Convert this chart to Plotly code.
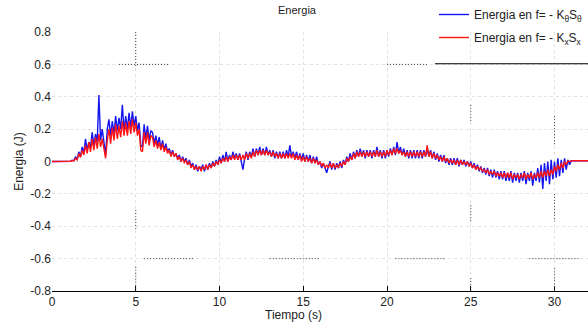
import plotly.graph_objects as go

# Sampling: one value every 0.1 s starting at t = 0 (one row per second)
t_step = 0.1

energia_theta = [  # blue: Energia en f = -K_theta S_theta
    0, 0, 0, 0, 0, 0, 0, 0, 0, 0,
    0.002, 0.001, 0.008, 0.004, 0.03, 0.012, 0.06, 0.03, 0.09, 0.05,
    0.14, 0.07, 0.12, 0.09, 0.18, 0.10, 0.17, 0.12, 0.41, 0.13,
    0.20, 0.12, 0.04, 0.20, 0.26, 0.16, 0.25, 0.17, 0.28, 0.19,
    0.27, 0.20, 0.35, 0.19, 0.28, 0.20, 0.30, 0.21, 0.31, 0.22,
    0.28, 0.19, 0.24, 0.10, 0.09, 0.23, 0.14, 0.22, 0.13, 0.19,
    0.18, 0.11, 0.16, 0.10, 0.15, 0.08, 0.13, 0.07, 0.11, 0.06,
    0.08, 0.04, 0.07, 0.03, 0.05, 0.02, 0.04, 0.00, 0.03, 0.00,
    0.02, -0.02, 0.01, -0.03, -0.01, -0.05, -0.02, -0.06, -0.03, -0.05,
    -0.02, -0.06, -0.02, -0.05, -0.01, -0.04, 0.00, -0.03, 0.01, -0.02,
    0.03, -0.01, 0.04, 0.00, 0.06, 0.00, 0.04, 0.01, 0.06, 0.02,
    0.05, 0.01, 0.05, 0.00, -0.05, 0.02, 0.06, 0.01, 0.06, 0.03,
    0.08, 0.03, 0.08, 0.04, 0.09, 0.04, 0.08, 0.04, 0.09, 0.04,
    0.07, 0.03, 0.07, 0.02, 0.06, 0.02, 0.06, 0.02, 0.06, 0.02,
    0.07, 0.03, 0.10, 0.03, 0.06, 0.02, 0.06, 0.01, 0.05, 0.01,
    0.05, 0.00, 0.04, 0.00, 0.04, -0.01, 0.03, -0.01, 0.03, -0.02,
    0.00, -0.04, -0.01, -0.04, -0.07, -0.03, 0.00, -0.05, -0.01, -0.05,
    -0.01, -0.04, 0.00, -0.04, 0.01, -0.02, 0.03, 0.00, 0.05, 0.01,
    0.06, 0.02, 0.07, 0.03, 0.08, 0.03, 0.07, 0.02, 0.07, 0.03,
    0.07, 0.02, 0.07, 0.03, 0.09, 0.03, 0.07, 0.02, 0.07, 0.02,
    0.07, 0.03, 0.08, 0.04, 0.09, 0.04, 0.12, 0.05, 0.09, 0.04,
    0.08, 0.03, 0.07, 0.02, 0.07, 0.02, 0.07, 0.02, 0.07, 0.02,
    0.07, 0.02, 0.07, 0.03, 0.08, 0.03, 0.07, 0.02, 0.06, 0.01,
    0.05, 0.00, 0.04, 0.00, 0.04, -0.01, 0.02, -0.02, 0.02, -0.02,
    0.02, -0.02, 0.02, -0.03, 0.01, -0.02, 0.01, -0.03, 0.00, -0.03,
    0.00, -0.04, -0.01, -0.05, -0.02, -0.06, -0.03, -0.07, -0.04, -0.08,
    -0.04, -0.09, -0.05, -0.10, -0.05, -0.10, -0.06, -0.11, -0.06, -0.11,
    -0.06, -0.12, -0.07, -0.12, -0.06, -0.13, -0.07, -0.12, -0.07, -0.13,
    -0.07, -0.12, -0.06, -0.14, -0.07, -0.12, -0.06, -0.15, -0.07, -0.12,
    -0.04, -0.13, -0.02, -0.17, -0.01, -0.12, 0.00, -0.14, 0.01, -0.11,
    0.00, -0.10, 0.02, -0.09, 0.01, -0.07, 0.02, -0.05, 0.01, -0.02,
    0.005, 0.005, 0.005, 0.005, 0.005, 0.005, 0.005, 0.005, 0.005, 0.005,
    0.005, 0.005, 0.005, 0.005, 0.005,
]

energia_x = [  # red: Energia en f = -K_x S_x
    0, 0, 0, 0, 0, 0, 0, 0, 0, 0,
    0.001, 0.002, 0.006, 0.004, 0.02, 0.01, 0.05, 0.025, 0.07, 0.04,
    0.10, 0.05, 0.12, 0.06, 0.14, 0.07, 0.15, 0.08, 0.17, 0.09,
    0.14, 0.08, 0.02, 0.13, 0.20, 0.11, 0.21, 0.13, 0.23, 0.14,
    0.22, 0.15, 0.25, 0.16, 0.24, 0.16, 0.25, 0.17, 0.26, 0.18,
    0.24, 0.16, 0.20, 0.07, 0.06, 0.18, 0.11, 0.18, 0.10, 0.16,
    0.15, 0.09, 0.13, 0.08, 0.12, 0.07, 0.11, 0.06, 0.09, 0.05,
    0.07, 0.03, 0.06, 0.03, 0.05, 0.01, 0.03, 0.00, 0.02, -0.01,
    0.01, -0.02, 0.00, -0.04, -0.02, -0.05, -0.03, -0.05, -0.03, -0.06,
    -0.03, -0.05, -0.02, -0.05, -0.02, -0.04, -0.01, -0.03, 0.00, -0.02,
    0.01, -0.01, 0.02, 0.00, 0.03, 0.00, 0.03, 0.01, 0.04, 0.01,
    0.04, 0.01, 0.04, 0.01, 0.04, 0.01, 0.05, 0.02, 0.05, 0.02,
    0.06, 0.03, 0.07, 0.04, 0.07, 0.04, 0.07, 0.04, 0.07, 0.04,
    0.06, 0.03, 0.06, 0.03, 0.05, 0.02, 0.05, 0.02, 0.05, 0.02,
    0.05, 0.02, 0.05, 0.02, 0.05, 0.01, 0.04, 0.01, 0.04, 0.00,
    0.03, 0.00, 0.03, 0.00, 0.02, -0.01, 0.02, -0.01, 0.01, -0.02,
    0.00, -0.03, -0.01, -0.04, -0.02, -0.04, -0.01, -0.04, -0.01, -0.04,
    -0.02, -0.04, -0.01, -0.03, 0.00, -0.02, 0.02, 0.00, 0.03, 0.01,
    0.05, 0.02, 0.06, 0.03, 0.06, 0.03, 0.06, 0.03, 0.06, 0.03,
    0.06, 0.03, 0.06, 0.03, 0.07, 0.03, 0.06, 0.03, 0.06, 0.03,
    0.07, 0.04, 0.07, 0.04, 0.08, 0.05, 0.08, 0.05, 0.07, 0.04,
    0.06, 0.03, 0.06, 0.03, 0.06, 0.03, 0.06, 0.03, 0.06, 0.03,
    0.06, 0.03, 0.06, 0.03, 0.10, 0.03, 0.06, 0.02, 0.05, 0.02,
    0.04, 0.01, 0.03, 0.00, 0.03, 0.00, 0.02, -0.01, 0.01, -0.01,
    0.01, -0.02, 0.01, -0.02, 0.01, -0.02, 0.00, -0.02, 0.00, -0.03,
    -0.01, -0.04, -0.02, -0.05, -0.03, -0.05, -0.04, -0.06, -0.05, -0.07,
    -0.05, -0.08, -0.06, -0.08, -0.06, -0.09, -0.07, -0.09, -0.07, -0.10,
    -0.07, -0.10, -0.07, -0.10, -0.07, -0.11, -0.08, -0.10, -0.08, -0.11,
    -0.08, -0.10, -0.07, -0.11, -0.08, -0.10, -0.07, -0.11, -0.08, -0.10,
    -0.07, -0.10, -0.06, -0.10, -0.06, -0.09, -0.05, -0.09, -0.05, -0.08,
    -0.03, -0.06, -0.02, -0.05, -0.01, -0.04, 0.00, -0.02, 0.003, 0.00,
    0.005, 0.005, 0.005, 0.005, 0.005, 0.005, 0.005, 0.005, 0.005, 0.005,
    0.005, 0.005, 0.005, 0.005, 0.005,
]

tiempo = [round(i * t_step, 1) for i in range(len(energia_theta))]

x_ticks = [0, 5, 10, 15, 20, 25, 30]
y_ticks = [0.8, 0.6, 0.4, 0.2, 0, -0.2, -0.4, -0.6, -0.8]
y_tick_labels = ["0.8", "0.6", "0.4", "0.2", "0", "-0.2", "-0.4", "-0.6", "-0.8"]

FONT = "Liberation Sans, Arial, sans-serif"
TXT = "#222222"
FS = 12

# Dotted grid fragments that show darker in the reference
dark_dots = dict(color="#444444", width=1, dash="1px,2px")
artifact_shapes = [
    dict(type="line", xref="x", yref="y", x0=5, x1=5, y0=0.8, y1=0.58, line=dark_dots),
    dict(type="line", xref="x", yref="y", x0=5, x1=5, y0=-0.3, y1=-0.42, line=dark_dots),
    dict(type="line", xref="x", yref="y", x0=5, x1=5, y0=-0.65, y1=-0.8, line=dark_dots),
    dict(type="line", xref="x", yref="y", x0=4, x1=7, y0=0.6, y1=0.6, line=dark_dots),
    dict(type="line", xref="x", yref="y", x0=20, x1=22.5, y0=0.6, y1=0.6, line=dark_dots),
    dict(type="line", xref="x", yref="y", x0=5.5, x1=8.5, y0=-0.6, y1=-0.6, line=dark_dots),
    dict(type="line", xref="x", yref="y", x0=13, x1=16, y0=-0.6, y1=-0.6, line=dark_dots),
    dict(type="line", xref="x", yref="y", x0=20.5, x1=23.5, y0=-0.6, y1=-0.6, line=dark_dots),
    dict(type="line", xref="x", yref="y", x0=28.5, x1=31.5, y0=-0.6, y1=-0.6, line=dark_dots),
    dict(type="line", xref="x", yref="y", x0=25, x1=25, y0=0.35, y1=0.24, line=dark_dots),
    dict(type="line", xref="x", yref="y", x0=25, x1=25, y0=-0.27, y1=-0.37, line=dark_dots),
    dict(type="line", xref="x", yref="y", x0=30, x1=30, y0=0.28, y1=0.1, line=dark_dots),
    dict(type="line", xref="x", yref="y", x0=30, x1=30, y0=-0.2, y1=-0.37, line=dark_dots),
    dict(type="line", xref="x", yref="y", x0=30, x1=30, y0=-0.66, y1=-0.8, line=dark_dots),
    dict(type="line", xref="x", yref="y", x0=25, x1=25, y0=-0.72, y1=-0.8, line=dark_dots),
]

fig = go.Figure()
fig.add_trace(go.Scatter(
    x=tiempo, y=energia_theta, mode="lines",
    line=dict(color="#1414f0", width=1.4),
    name="Energia en f= - K<sub>θ</sub>S<sub>θ</sub>", legendgroup="a",
))
fig.add_trace(go.Scatter(
    x=tiempo, y=energia_x, mode="lines",
    line=dict(color="#ff1414", width=1.4),
    name="Energia en f= - K<sub>x</sub>S<sub>x</sub>", legendgroup="b",
))

fig.update_layout(
    width=588, height=327,
    margin=dict(l=52, r=0, t=30, b=36),
    paper_bgcolor="white", plot_bgcolor="white",
    font=dict(family=FONT, size=FS, color=TXT),
    title=dict(text="Energia", x=297 / 588, xanchor="center", xref="container",
               y=1 - 10 / 327, yanchor="middle", yref="container",
               font=dict(family=FONT, size=11, color=TXT)),
    showlegend=True,
    legend=dict(x=1, xanchor="right", y=1.125, yanchor="top",
                bgcolor="rgba(0,0,0,0)", borderwidth=0,
                font=dict(family=FONT, size=FS, color=TXT),
                tracegroupgap=4, itemwidth=30),
    xaxis=dict(range=[0, 32.0], tickvals=x_ticks, ticks="inside", ticklen=5,
               tickcolor="#000", showline=True, linecolor="#000", linewidth=1,
               showgrid=True, gridcolor="#e2e2e2", griddash="dot", gridwidth=1,
               zeroline=False, tickfont=dict(size=FS, color=TXT)),
    yaxis=dict(range=[-0.8, 0.8], tickvals=y_ticks, ticktext=y_tick_labels,
               ticks="", showline=False, showgrid=True, gridcolor="#e2e2e2",
               griddash="dot", gridwidth=1, zeroline=False,
               tickfont=dict(size=FS, color=TXT),
               title=dict(text="Energia (J)", standoff=4, font=dict(size=FS, color=TXT))),
    annotations=[dict(text="Tiempo (s)", xref="paper", yref="paper",
                      x=(293 - 52) / 536, y=0, yshift=-15, xanchor="center", yanchor="top",
                      showarrow=False, font=dict(family=FONT, size=FS, color=TXT))],
    shapes=artifact_shapes + [dict(type="line", xref="paper", yref="paper",
                 x0=(435 - 52) / 536, x1=1, y0=(291 - 62) / 261, y1=(291 - 62) / 261,
                 line=dict(color="#000", width=1))],
)

fig.write_html("out.html")
